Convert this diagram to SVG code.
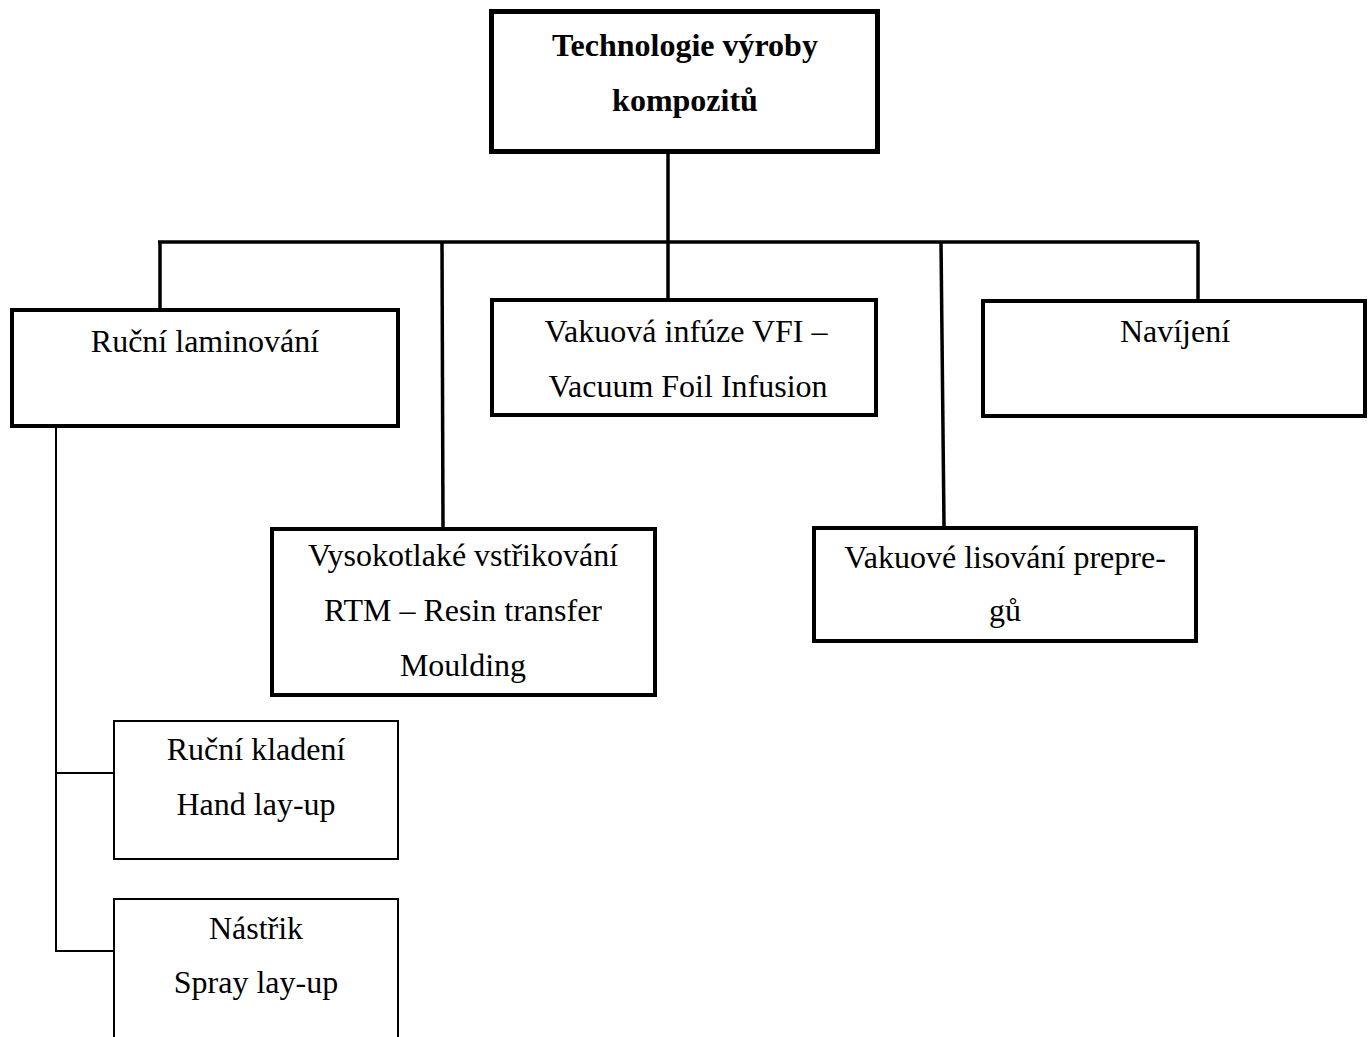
<svg xmlns="http://www.w3.org/2000/svg" width="1368" height="1037" viewBox="0 0 1368 1037">
<style>
.box{fill:#fff;stroke:#000;stroke-width:4}
.thin{fill:#fff;stroke:#000;stroke-width:2}
.t{font-family:"Liberation Serif","Times New Roman",serif;font-size:32px;fill:#000;text-anchor:middle}
.b{font-weight:bold}
.c{stroke:#000;stroke-width:3.5;fill:none}
.c2{stroke:#000;stroke-width:2;fill:none}
</style>
<rect width="1368" height="1037" fill="#fff"/>
<g id="connectors">
<line class="c" x1="668" y1="152" x2="668" y2="298"/>
<line class="c" x1="158" y1="242" x2="1199" y2="242"/>
<line class="c" x1="160" y1="242" x2="160" y2="308"/>
<line class="c" x1="442" y1="242" x2="443" y2="527"/>
<line class="c" x1="941" y1="242" x2="944" y2="526"/>
<line class="c" x1="1198" y1="242" x2="1198" y2="299"/>
<polyline class="c2" points="56,428 56,951 113,951"/>
<line class="c2" x1="56" y1="773" x2="113" y2="773"/>
</g>
<g id="n-root">
<rect x="491.5" y="11.5" width="386" height="140" fill="#fff" stroke="#000" stroke-width="5"/>
<text class="t b" x="685" y="56">Technologie výroby</text>
<text class="t b" x="685" y="111">kompozitů</text>
</g>
<g id="n-rucni-laminovani">
<rect class="box" x="12" y="310" width="386" height="116"/>
<text class="t" x="205" y="352">Ruční laminování</text>
</g>
<g id="n-vfi">
<rect class="box" x="492" y="300" width="384" height="115"/>
<text class="t" x="686" y="342">Vakuová infúze VFI –</text>
<text class="t" x="688" y="397">Vacuum Foil Infusion</text>
</g>
<g id="n-navijeni">
<rect class="box" x="983" y="301" width="382" height="115"/>
<text class="t" x="1175" y="342">Navíjení</text>
</g>
<g id="n-rtm">
<rect class="box" x="272" y="529" width="383" height="166"/>
<text class="t" x="463" y="566">Vysokotlaké vstřikování</text>
<text class="t" x="463" y="621">RTM – Resin transfer</text>
<text class="t" x="463" y="676">Moulding</text>
</g>
<g id="n-prepregy">
<rect class="box" x="814" y="528" width="382" height="113"/>
<text class="t" x="1005" y="568">Vakuové lisování prepre-</text>
<text class="t" x="1005" y="621">gů</text>
</g>
<g id="n-hand">
<rect class="thin" x="114" y="721" width="284" height="138"/>
<text class="t" x="256" y="760">Ruční kladení</text>
<text class="t" x="256" y="815">Hand lay-up</text>
</g>
<g id="n-spray">
<rect class="thin" x="114" y="899" width="284" height="150"/>
<text class="t" x="256" y="939">Nástřik</text>
<text class="t" x="256" y="993">Spray lay-up</text>
</g>
</svg>
